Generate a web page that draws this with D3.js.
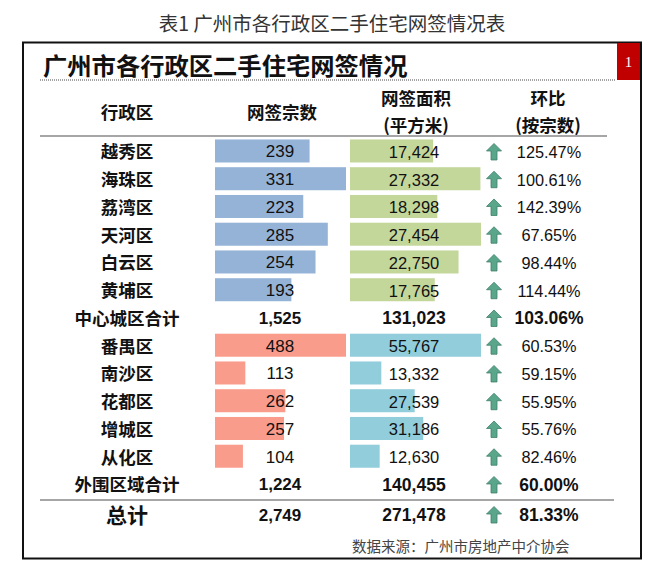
<!DOCTYPE html>
<html><head><meta charset="utf-8">
<script src="https://cdn.jsdelivr.net/npm/d3@7"></script>
<style>body{margin:0;background:#fff}svg{display:block}</style>
</head><body><div id="chart"></div>
<script>
const districts = ["越秀区","海珠区","荔湾区","天河区","白云区","黄埔区","中心城区合计","番禺区","南沙区","花都区","增城区","从化区","外围区域合计"];
const groups    = ["c","c","c","c","c","c","cs","o","o","o","o","o","os"];
const counts    = [239,331,223,285,254,193,1525,488,113,262,257,104,1224];
const areas     = [17424,27332,18298,27454,22750,17765,131023,55767,13332,27539,31186,12630,140455];
const mom       = [125.47,100.61,142.39,67.65,98.44,114.44,103.06,60.53,59.15,55.95,55.76,82.46,60.00];
const totalLabel = "总计", totalCount = 2749, totalArea = 271478, totalMom = 81.33;
const headers = [["行政区"],["网签宗数"],["网签面积","(平方米)"],["环比","(按宗数)"]];

const W=660,H=566;
const svg=d3.select("#chart").append("svg").attr("width",W).attr("height",H);
const CJK='"Noto Sans CJK SC","Noto Sans",sans-serif';
const NUM='"Liberation Sans",Arial,sans-serif';

svg.append("text").attr("x",332).attr("y",22).attr("text-anchor","middle").attr("dominant-baseline","central")
  .style("font-family",CJK).style("font-size","19.5px").attr("fill","#333").text("表1 广州市各行政区二手住宅网签情况表");

svg.append("rect").attr("x",23).attr("y",42.5).attr("width",618).attr("height",516).attr("fill","none").attr("stroke","#111").attr("stroke-width",2);
svg.append("rect").attr("x",617).attr("y",43).attr("width",23).attr("height",37).attr("fill","#c00000");
svg.append("text").attr("x",628.5).attr("y",62).attr("text-anchor","middle").attr("dominant-baseline","central")
  .style("font-family",'"Liberation Serif",serif').style("font-size","15px").attr("fill","#fff").text("1");

svg.append("text").attr("x",43).attr("y",64).attr("dominant-baseline","central")
  .style("font-family",CJK).style("font-size","24.3px").style("font-weight","700").attr("fill","#111").text("广州市各行政区二手住宅网签情况");
svg.append("line").attr("x1",40).attr("x2",616).attr("y1",80).attr("y2",80).attr("stroke","#888").attr("stroke-width",1.5).attr("stroke-dasharray","1,1");

const colX=[127,282,416,548];
headers.forEach((h,i)=>{
  const ys = h.length===1?[111]:[97,124];
  h.forEach((t,j)=>svg.append("text").attr("x",colX[i]).attr("y",ys[j]).attr("text-anchor","middle").attr("dominant-baseline","central")
    .style("font-family",CJK).style("font-size","17.5px").style("font-weight","700").attr("fill","#111").text(t));
});
svg.append("line").attr("x1",40).attr("x2",607).attr("y1",136).attr("y2",136).attr("stroke","#888").attr("stroke-width",1.5);
svg.append("line").attr("x1",40).attr("x2",614).attr("y1",500).attr("y2",500).attr("stroke","#888").attr("stroke-width",1.5);

const y=d3.scaleBand().domain(d3.range(districts.length)).range([137.1,137.1+13*27.75]).paddingInner(0.17).paddingOuter(0.085);
const isSub=g=>g==="cs"||g==="os";
const cIdx=d3.range(13).filter(i=>groups[i]==="c"), oIdx=d3.range(13).filter(i=>groups[i]==="o");
const xCntC=d3.scaleLinear().domain([0,d3.max(cIdx,i=>counts[i])]).range([0,131]);
const xCntO=d3.scaleLinear().domain([0,d3.max(oIdx,i=>counts[i])]).range([0,131]);
const xAreaC=d3.scaleLinear().domain([0,d3.max(cIdx,i=>areas[i])]).range([0,131]);
const xAreaO=d3.scaleLinear().domain([0,d3.max(oIdx,i=>areas[i])]).range([0,131]);
const fmt=d3.format(",");

const barRows=d3.range(13).filter(i=>!isSub(groups[i]));
svg.selectAll(".bc").data(barRows).join("rect").attr("x",215).attr("y",i=>y(i)).attr("height",y.bandwidth())
  .attr("width",i=>groups[i]==="c"?xCntC(counts[i]):xCntO(counts[i]))
  .attr("fill",i=>groups[i]==="c"?"#95b3d7":"#fa9c8c");
svg.selectAll(".ba").data(barRows).join("rect").attr("x",350).attr("y",i=>y(i)).attr("height",y.bandwidth())
  .attr("width",i=>groups[i]==="c"?xAreaC(areas[i]):xAreaO(areas[i]))
  .attr("fill",i=>groups[i]==="c"?"#c4d79b":"#92cddc");

function arrow(cx,cy){
  svg.append("path").attr("d",`M${cx},${cy-8.5} L${cx+7.5},${cy-1} L${cx+3},${cy-1} L${cx+3},${cy+8} L${cx-3},${cy+8} L${cx-3},${cy-1} L${cx-7.5},${cy-1} Z`)
    .attr("fill","#5aa68b").attr("stroke","#3f7f69").attr("stroke-width",0.8);
}
function row(label,cnt,area,pct,cy,bold,lsize){
  const fw=bold?"700":"400";
  svg.append("text").attr("x",colX[0]).attr("y",cy).attr("text-anchor","middle").attr("dominant-baseline","central")
    .style("font-family",CJK).style("font-size",lsize+"px").style("font-weight","700").attr("fill","#111").text(label);
  svg.append("text").attr("x",280).attr("y",cy+1).attr("text-anchor","middle").attr("dominant-baseline","central")
    .style("font-family",NUM).style("font-size","17px").style("font-weight",fw).attr("fill","#111").text(fmt(cnt));
  svg.append("text").attr("x",414).attr("y",cy+1).attr("text-anchor","middle").attr("dominant-baseline","central")
    .style("font-family",NUM).style("font-size",bold?"17.5px":"16.5px").style("font-weight",fw).attr("fill","#111").text(fmt(area));
  arrow(494,cy+1);
  svg.append("text").attr("x",549).attr("y",cy+1).attr("text-anchor","middle").attr("dominant-baseline","central")
    .style("font-family",NUM).style("font-size",bold?"17.5px":"16.3px").style("font-weight",fw).attr("fill","#111").text(pct.toFixed(2)+"%");
}
districts.forEach((d,i)=>{
  const cy=y(i)+y.bandwidth()/2;
  row(d,counts[i],areas[i],mom[i],cy,isSub(groups[i]),17.5);
});
row(totalLabel,totalCount,totalArea,totalMom,514,true,21);

svg.append("text").attr("x",352).attr("y",545).attr("dominant-baseline","central")
  .style("font-family",CJK).style("font-size","14.5px").attr("fill","#444").text("数据来源：广州市房地产中介协会");
</script></body></html>
